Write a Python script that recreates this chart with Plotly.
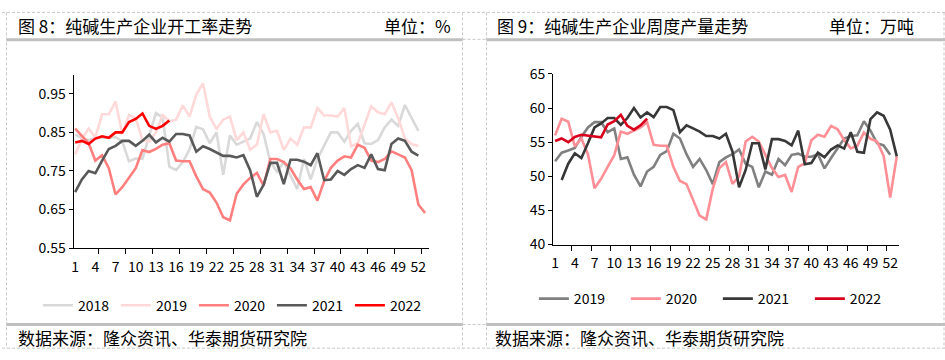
import plotly.graph_objects as go

W, H = 945, 360

# ---------------- data ----------------
weeks = list(range(1, 54))
tick_weeks = [1, 4, 7, 10, 13, 16, 19, 22, 25, 28, 31, 34, 37, 40, 43, 46, 49, 52]
tick_text = [str(v) for v in tick_weeks]

# Fig 8: operating rate
rate_2018 = [0.845, 0.835, 0.830, 0.835, 0.836, 0.836, 0.838, 0.826, 0.775, 0.782,
             0.782, 0.843, 0.900, 0.889, 0.761, 0.752, 0.773, 0.806, 0.864, 0.858,
             0.822, 0.850, 0.740, 0.842, 0.818, 0.826, 0.834, 0.877, 0.846, 0.773,
             0.748, 0.773, 0.740, 0.703, 0.781, 0.728, 0.781, 0.815, 0.850, 0.850,
             0.826, 0.854, 0.872, 0.822, 0.820, 0.830, 0.863, 0.883, 0.867, 0.921,
             0.887, 0.854]
rate_2019 = [0.793, 0.832, 0.860, 0.837, 0.897, 0.897, 0.930, 0.846, 0.895, 0.887,
             0.830, 0.826, 0.850, 0.895, 0.879, 0.883, 0.920, 0.891, 0.948, 0.977,
             0.891, 0.859, 0.883, 0.891, 0.830, 0.850, 0.805, 0.818, 0.897, 0.850,
             0.854, 0.804, 0.834, 0.818, 0.863, 0.863, 0.913, 0.894, 0.894, 0.891,
             0.913, 0.814, 0.822, 0.871, 0.918, 0.902, 0.897, 0.928, 0.887, 0.834,
             0.820, 0.815]
rate_2020 = [0.860, 0.842, 0.822, 0.777, 0.791, 0.757, 0.689, 0.708, 0.734, 0.757,
             0.804, 0.799, 0.807, 0.818, 0.822, 0.777, 0.775, 0.775, 0.736, 0.703,
             0.694, 0.668, 0.630, 0.622, 0.691, 0.715, 0.732, 0.745, 0.712, 0.781,
             0.781, 0.773, 0.757, 0.728, 0.703, 0.708, 0.673, 0.724, 0.758, 0.777,
             0.788, 0.785, 0.818, 0.810, 0.777, 0.773, 0.781, 0.801, 0.793, 0.785,
             0.752, 0.663, 0.641]
rate_2021 = [0.695, 0.728, 0.750, 0.744, 0.777, 0.807, 0.815, 0.828, 0.828, 0.815,
             0.828, 0.844, 0.824, 0.836, 0.826, 0.846, 0.846, 0.842, 0.800, 0.814,
             0.807, 0.797, 0.789, 0.789, 0.785, 0.791, 0.752, 0.683, 0.714, 0.771,
             0.771, 0.716, 0.779, 0.779, 0.774, 0.765, 0.796, 0.726, 0.728, 0.750,
             0.740, 0.755, 0.765, 0.758, 0.793, 0.755, 0.752, 0.820, 0.834, 0.828,
             0.800, 0.790]
rate_2022 = [0.824, 0.828, 0.820, 0.834, 0.840, 0.836, 0.850, 0.850, 0.877, 0.885,
             0.899, 0.867, 0.859, 0.867, 0.881]

# Fig 9: weekly output (10k tonnes)
out_2019 = [52.22, 53.47, 53.79, 54.16, 55.78, 57.16, 57.94, 57.94, 56.47, 57.02,
            52.55, 52.78, 50.24, 48.53, 50.70, 51.39, 53.15, 53.70, 56.24, 55.54,
            53.24, 51.39, 52.55, 50.93, 48.86, 52.08, 52.78, 53.24, 53.93, 51.85,
            51.39, 48.39, 50.70, 50.24, 52.55, 51.62, 53.15, 53.33, 52.87, 52.87,
            53.24, 51.16, 52.68, 54.16, 55.54, 55.91, 56.00, 58.08, 56.70, 54.85,
            54.53, 53.15]
out_2020 = [56.00, 58.45, 58.00, 54.40, 55.55, 53.24, 48.26, 49.64, 51.40, 53.10,
            56.56, 56.24, 56.70, 57.16, 57.94, 54.62, 54.48, 54.48, 51.40, 49.32,
            48.86, 46.55, 44.24, 43.69, 48.20, 51.20, 52.10, 48.90, 50.00, 55.10,
            55.80, 55.10, 53.20, 51.20, 49.90, 50.20, 47.70, 51.40, 51.90, 55.30,
            56.10, 55.80, 57.40, 56.90, 55.30, 54.10, 54.50, 56.40, 55.50, 55.10,
            53.00, 46.90, 52.90]
out_2021 = [None, 49.46, 51.85, 53.38, 52.68, 54.85, 57.16, 57.76, 58.54, 58.54,
            57.53, 58.54, 60.02, 58.63, 59.37, 58.68, 60.16, 60.16, 59.70, 56.47,
            57.48, 57.02, 56.56, 55.91, 55.91, 55.54, 56.24, 53.61, 48.39, 50.93,
            54.85, 54.85, 51.02, 55.45, 55.45, 55.18, 54.53, 56.70, 51.76, 51.95,
            53.47, 52.78, 53.93, 54.53, 54.07, 56.47, 53.61, 53.47, 58.40, 59.37,
            58.87, 56.84, 52.92]
out_2022 = [55.18, 55.55, 55.00, 55.78, 56.10, 56.00, 55.90, 55.73, 57.60, 58.08,
            59.00, 57.40, 56.84, 57.48, 58.45]

left_series = [("2018", rate_2018, "#D9D9D9"), ("2019", rate_2019, "#FFD9D9"),
               ("2020", rate_2020, "#FF7F7F"), ("2021", rate_2021, "#595959"),
               ("2022", rate_2022, "#FF0000")]
right_series = [("2019", out_2019, "#808080"), ("2020", out_2020, "#FF8F96"),
                ("2021", out_2021, "#383838"), ("2022", out_2022, "#D9001B")]

FONT = "Noto Sans CJK SC"

fig = go.Figure()
for name, vals, col in left_series:
    fig.add_trace(go.Scatter(x=weeks[:len(vals)], y=vals, name=name, mode="lines",
                             line=dict(color=col, width=2.6), xaxis="x", yaxis="y",
                             legend="legend", connectgaps=False))
for name, vals, col in right_series:
    fig.add_trace(go.Scatter(x=weeks[:len(vals)], y=vals, name=name, mode="lines",
                             line=dict(color=col, width=2.6), xaxis="x2", yaxis="y2",
                             legend="legend2", connectgaps=False))


def px_x(p):
    return p / W


def px_y(p):
    return 1 - p / H


axis_common = dict(showgrid=False, zeroline=False, showline=True, linecolor="black",
                   linewidth=1, tickfont=dict(family=FONT, size=14, color="black"))

fig.update_layout(
    width=W, height=H, autosize=False,
    margin=dict(l=0, r=0, t=0, b=0),
    paper_bgcolor="white", plot_bgcolor="white",
    font=dict(family=FONT, color="black"),
    xaxis=dict(domain=[px_x(71.7), px_x(428.3)], range=[0.76, 53.64],
               tickvals=tick_weeks, ticktext=tick_text, ticks="",
               ticklabelstandoff=6,
               minor=dict(tick0=0.5, dtick=4, ticks="outside", ticklen=5,
                          tickcolor="black"),
               anchor="y", **axis_common),
    yaxis=dict(domain=[px_y(251), px_y(67.3)], range=[0.55, 1.0],
               tickvals=[0.55, 0.65, 0.75, 0.85, 0.95], tickformat=".2f",
               ticks="outside", ticklen=4, tickcolor="black",
               anchor="x", **axis_common),
    xaxis2=dict(domain=[px_x(552.3), px_x(899.3)], range=[0.70, 53.4],
                tickvals=tick_weeks, ticktext=tick_text, ticks="",
                ticklabelstandoff=6,
                minor=dict(tick0=0.5, dtick=3, ticks="outside", ticklen=5,
                           tickcolor="black"),
                anchor="y2", **axis_common),
    yaxis2=dict(domain=[px_y(247.3), px_y(66.7)], range=[40, 65],
                tickvals=[40, 45, 50, 55, 60, 65],
                ticks="outside", ticklen=4, tickcolor="black",
                anchor="x2", **axis_common),
    legend=dict(orientation="h", x=px_x(36), y=px_y(312), xanchor="left",
                yanchor="middle", bgcolor="rgba(0,0,0,0)", borderwidth=0,
                entrywidth=33, entrywidthmode="pixels", tracegroupgap=0,
                font=dict(family=FONT, size=14, color="black")),
    legend2=dict(orientation="h", x=px_x(533), y=px_y(305), xanchor="left",
                 yanchor="middle", bgcolor="rgba(0,0,0,0)", borderwidth=0,
                 entrywidth=47, entrywidthmode="pixels", tracegroupgap=0,
                 font=dict(family=FONT, size=14, color="black")),
)

shapes = []
dash_col = "#C8C8C8"
# dashed frame lines
for yy in [1.5, 357]:
    shapes.append(dict(type="line", xref="paper", yref="paper", x0=0, x1=1,
                       y0=px_y(yy), y1=px_y(yy),
                       line=dict(color=dash_col, width=1, dash="3px,2px")))
for yy in [30, 332]:
    shapes.append(dict(type="line", xref="paper", yref="paper", x0=px_x(461.5), x1=px_x(485),
                       y0=px_y(yy), y1=px_y(yy),
                       line=dict(color=dash_col, width=1, dash="3px,2px")))
for xx in [4.5, 461.5, 485.5, 944]:
    shapes.append(dict(type="line", xref="paper", yref="paper", x0=px_x(xx), x1=px_x(xx),
                       y0=px_y(1.5), y1=px_y(357),
                       line=dict(color=dash_col, width=1, dash="3px,2px")))
# gray header / footer rules
for (a, b) in [(4.5, 461.5), (485.5, 945)]:
    for yy in [30.5, 332]:
        shapes.append(dict(type="line", xref="paper", yref="paper", x0=px_x(a), x1=px_x(b),
                           y0=px_y(yy), y1=px_y(yy),
                           line=dict(color="#C0C0C0", width=3)))
fig.update_layout(shapes=shapes)

ann = []


def text(x, y, s, size=17):
    ann.append(dict(xref="paper", yref="paper", x=px_x(x), y=px_y(y), text=s,
                    showarrow=False, xanchor="left", yanchor="middle",
                    font=dict(family=FONT, size=size, color="black")))


text(14, 15, "图 8：纯碱生产企业开工率走势")
text(381, 15, "单位：%")
text(494, 15, "图 9：纯碱生产企业周度产量走势")
text(827, 15, "单位：万吨")
text(14, 346, "数据来源：隆众资讯、华泰期货研究院")
text(492, 346, "数据来源：隆众资讯、华泰期货研究院")
fig.update_layout(annotations=ann)

fig.write_html("out.html", config={"displayModeBar": False},
               post_script="document.body.style.margin='0px';")
